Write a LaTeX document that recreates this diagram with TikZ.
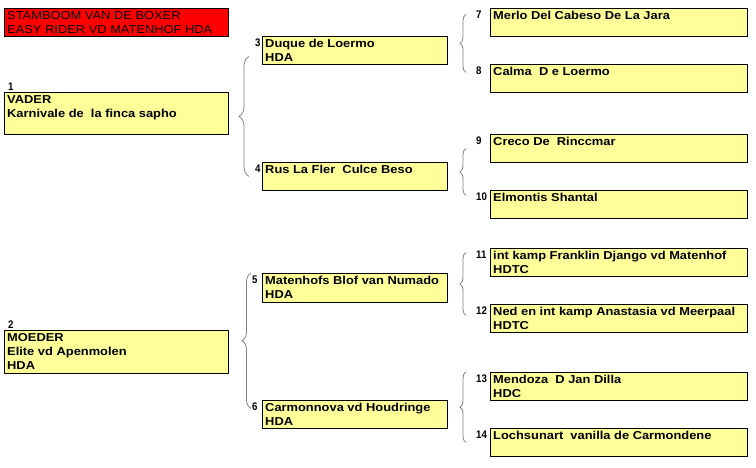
\documentclass[tikz,border=0pt]{standalone}
\usepackage{fontspec}
\setmainfont{Liberation Sans}[FakeStretch=1.12]
\newfontfamily\numfont{Liberation Sans}[FakeStretch=0.88]
\usetikzlibrary{decorations.pathreplacing}
\definecolor{paper}{RGB}{255,255,153}
\definecolor{bracegray}{RGB}{128,128,128}

\begin{document}
\begin{tikzpicture}[x=1pt, y=-1pt,
  dog/.style = {draw, line width=0.8pt, fill=paper, anchor=north west, inner sep=0pt},
  gen1/.style = {dog, minimum width=224pt},
  gen2/.style = {dog, minimum width=185pt, minimum height=28pt},
  gen3/.style = {dog, minimum width=257pt, minimum height=28pt},
  dogtext/.style = {anchor=north west, align=left, inner xsep=3pt, inner ysep=3pt, font=\fontsize{11.5}{14}\selectfont\bfseries},
  num/.style = {anchor=north west, inner xsep=0pt, inner ysep=3pt, font=\numfont\fontsize{11}{14}\selectfont\bfseries},
  kaak/.style = {draw=bracegray, line width=0.8pt, decorate, decoration={brace, amplitude=#1}}]
\useasboundingbox (0,0) rectangle (756,467);

% titel
\node[dog, fill=red, minimum width=224pt, minimum height=28pt] (titel) at (4,8) {};
\node[dogtext, font=\fontsize{11.5}{14}\selectfont] (titeltekst) at (titel.north west) {STAMBOOM VAN DE BOXER\\EASY RIDER VD MATENHOF HDA};

% ouders
\node[gen1, minimum height=42pt] (d1) at (4,92) {};
\node[dogtext] (t1) at (d1.north west) {VADER\\Karnivale de~ la finca sapho};
\node[num, anchor=base west, inner xsep=4pt] (n1) at ([yshift=2pt]d1.north west) {1};
\node[gen1, minimum height=43pt] (d2) at (4,330) {};
\node[dogtext] (t2) at (d2.north west) {MOEDER\\Elite vd Apenmolen\\HDA};
\node[num, anchor=base west, inner xsep=4pt] (n2) at ([yshift=2pt]d2.north west) {2};

% grootouders
\node[gen2] (d3) at (262,36) {};
\node[dogtext] (t3) at (d3.north west) {Duque de Loermo\\HDA};
\node[num] (n3) at ([xshift=-7pt]d3.north west) {3};
\node[gen2] (d4) at (262,162) {};
\node[dogtext] (t4) at (d4.north west) {Rus La Fler~ Culce Beso};
\node[num] (n4) at ([xshift=-7pt]d4.north west) {4};
\node[gen2, minimum height=29pt] (d5) at (262,273) {};
\node[dogtext] (t5) at (d5.north west) {Matenhofs Blof van Numado\\HDA};
\node[num] (n5) at ([xshift=-10pt]d5.north west) {5};
\node[gen2] (d6) at (262,400) {};
\node[dogtext] (t6) at (d6.north west) {Carmonnova vd Houdringe\\HDA};
\node[num] (n6) at ([xshift=-10pt]d6.north west) {6};

% overgrootouders
\node[gen3] (d7) at (490,8) {};
\node[dogtext] (t7) at (d7.north west) {Merlo Del Cabeso De La Jara};
\node[num] (n7) at ([xshift=-14pt]d7.north west) {7};
\node[gen3] (d8) at (490,64) {};
\node[dogtext] (t8) at (d8.north west) {Calma~ D e Loermo};
\node[num] (n8) at ([xshift=-14pt]d8.north west) {8};
\node[gen3] (d9) at (490,134) {};
\node[dogtext] (t9) at (d9.north west) {Creco De~ Rinccmar};
\node[num] (n9) at ([xshift=-14pt]d9.north west) {9};
\node[gen3] (d10) at (490,190) {};
\node[dogtext] (t10) at (d10.north west) {Elmontis Shantal};
\node[num] (n10) at ([xshift=-14pt]d10.north west) {10};
\node[gen3] (d11) at (490,248) {};
\node[dogtext] (t11) at (d11.north west) {int kamp Franklin Django vd Matenhof\\HDTC};
\node[num] (n11) at ([xshift=-14pt]d11.north west) {11};
\node[gen3] (d12) at (490,304) {};
\node[dogtext] (t12) at (d12.north west) {Ned en int kamp Anastasia vd Meerpaal\\HDTC};
\node[num] (n12) at ([xshift=-14pt]d12.north west) {12};
\node[gen3] (d13) at (490,372) {};
\node[dogtext] (t13) at (d13.north west) {Mendoza~ D Jan Dilla\\HDC};
\node[num] (n13) at ([xshift=-14pt]d13.north west) {13};
\node[gen3] (d14) at (490,428) {};
\node[dogtext] (t14) at (d14.north west) {Lochsunart~ vanilla de Carmondene};
\node[num] (n14) at ([xshift=-14pt]d14.north west) {14};

% accolades
\draw[kaak=10pt] ([xshift=-13pt]d4.west) -- ([xshift=-13pt,yshift=-6pt]d3.west);
\draw[kaak=9pt] ([xshift=-11pt,yshift=6pt]d6.west) -- ([xshift=-11pt]d5.north west);
\draw[kaak=6pt] ([xshift=-24pt,yshift=6pt]d8.west) -- ([xshift=-24pt,yshift=8pt]d7.west);
\draw[kaak=6pt] ([xshift=-24pt,yshift=9pt]d10.west) -- ([xshift=-24pt]d9.west);
\draw[kaak=6pt] ([xshift=-24pt,yshift=3pt]d12.west) -- ([xshift=-24pt,yshift=10pt]d11.west);
\draw[kaak=6pt] ([xshift=-24pt]d14.west) -- ([xshift=-24pt]d13.north west);

\end{tikzpicture}
\end{document}
